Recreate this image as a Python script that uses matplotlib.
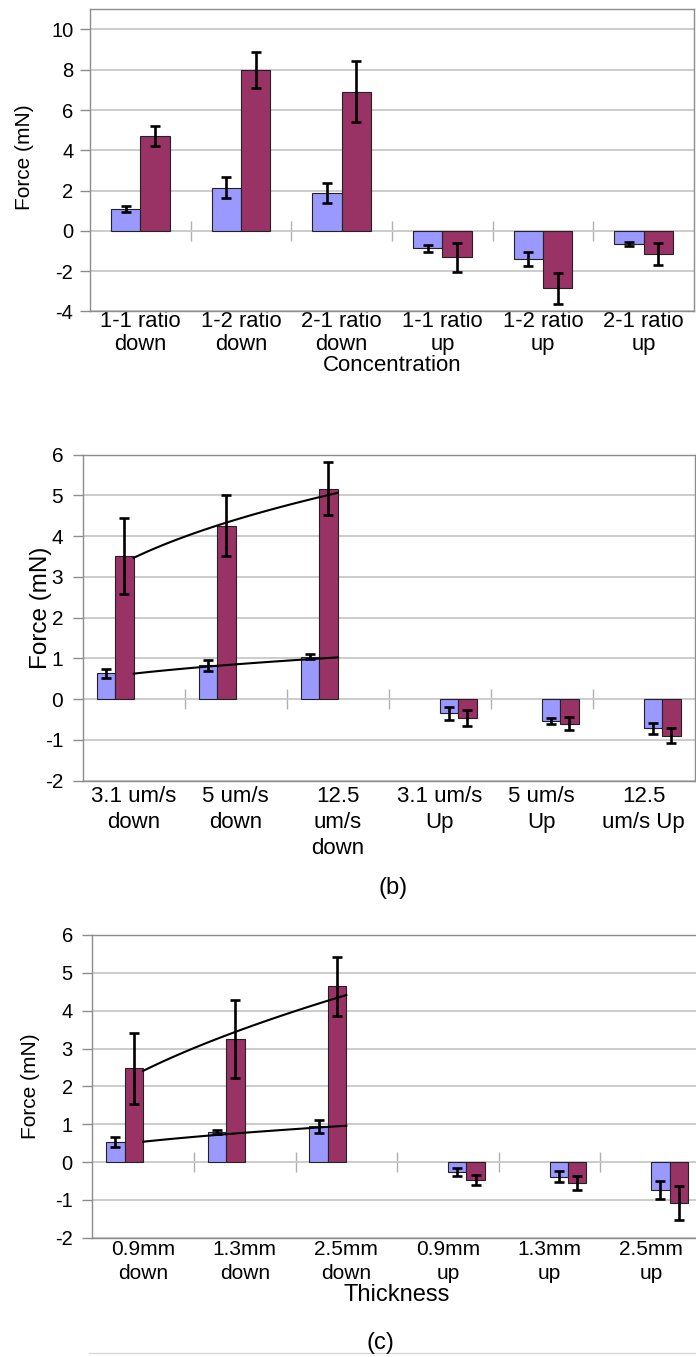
import numpy as np
import matplotlib
matplotlib.use("Agg")
import matplotlib.pyplot as plt
from matplotlib.lines import Line2D

plt.rcParams['font.family'] = ['Liberation Sans', 'DejaVu Sans']

# ---------------- data ----------------
directions = ["down", "down", "down", "up", "up", "up"]

a_categories = ["1-1 ratio\ndown", "1-2 ratio\ndown", "2-1 ratio\ndown",
                "1-1 ratio\nup", "1-2 ratio\nup", "2-1 ratio\nup"]
a_blue = [1.08, 2.14, 1.89, -0.87, -1.40, -0.64]
a_blue_err = [0.15, 0.52, 0.50, 0.18, 0.37, 0.10]
a_maroon = [4.70, 7.97, 6.90, -1.32, -2.85, -1.15]
a_maroon_err = [0.50, 0.90, 1.52, 0.70, 0.78, 0.54]
a_yticks = [-4, -2, 0, 2, 4, 6, 8, 10]
a_xlabel = "Concentration"

b_categories = ["3.1 um/s\ndown", "5 um/s\ndown", "12.5\num/s\ndown",
                "3.1 um/s\nUp", "5 um/s\nUp", "12.5\num/s Up"]
b_blue = [0.63, 0.83, 1.04, -0.35, -0.54, -0.72]
b_blue_err = [0.12, 0.13, 0.06, 0.16, 0.07, 0.13]
b_maroon = [3.51, 4.26, 5.17, -0.47, -0.61, -0.90]
b_maroon_err = [0.94, 0.75, 0.65, 0.20, 0.16, 0.18]
b_yticks = [-2, -1, 0, 1, 2, 3, 4, 5, 6]

c_categories = ["0.9mm\ndown", "1.3mm\ndown", "2.5mm\ndown",
                "0.9mm\nup", "1.3mm\nup", "2.5mm\nup"]
c_blue = [0.53, 0.80, 0.94, -0.27, -0.39, -0.74]
c_blue_err = [0.13, 0.05, 0.17, 0.10, 0.15, 0.25]
c_maroon = [2.48, 3.26, 4.64, -0.48, -0.56, -1.08]
c_maroon_err = [0.94, 1.03, 0.79, 0.14, 0.18, 0.44]
c_yticks = [-2, -1, 0, 1, 2, 3, 4, 5, 6]
c_xlabel = "Thickness"

ylabel = "Force (mN)"

# ---------------- style ----------------
BLUE = "#9999FF"
MAROON = "#993366"
EDGE = "#222222"
GRID = "#c8c8c8"
SPINE = "#8c8c8c"

W, H = 696, 1357
fig = plt.figure(figsize=(W / 100, H / 100), dpi=100)


def frac(left, top, right, bottom):
    return [left / W, 1 - bottom / H, (right - left) / W, (bottom - top) / H]


def draw_panel(ax, cats, blue, blue_err, maroon, maroon_err, yticks, ylim,
               four_slots, trend, tick_fs, xtick_fs, ylab_fs, ylab_xy,
               xt_linespacing, ytick_pad, xpad=1, xlabel=None, xlab_y=None, xlab_fs=15):
    x = np.arange(len(cats))
    if four_slots:
        w = 0.182
        blue_off = np.array([-1.5 * w if d == "down" else 0.5 * w for d in directions])
        mar_off = blue_off + w
    else:
        w = 0.293
        blue_off = np.full(len(cats), -0.5 * w)
        mar_off = np.full(len(cats), 0.5 * w)
    ax.bar(x + blue_off, blue, w, color=BLUE, edgecolor=EDGE, linewidth=0.8, zorder=2)
    ax.bar(x + mar_off, maroon, w, color=MAROON, edgecolor=EDGE, linewidth=0.8, zorder=2)
    ax.errorbar(x + blue_off, blue, yerr=blue_err, fmt='none', ecolor='black',
                elinewidth=1.9, capsize=3.4, capthick=1.9, zorder=4)
    ax.errorbar(x + mar_off, maroon, yerr=maroon_err, fmt='none', ecolor='black',
                elinewidth=1.9, capsize=3.4, capthick=1.9, zorder=4)

    if trend:
        idx = [i for i, d in enumerate(directions) if d == "down"]
        k = np.arange(1, len(idx) + 1, dtype=float)
        kk = np.linspace(1, len(idx), 60)
        for series in (blue, maroon):
            yv = np.array([series[i] for i in idx])
            c, lnb = np.polyfit(np.log(k), np.log(yv), 1)
            ax.plot(kk - 1 + idx[0], np.exp(lnb) * kk ** c, color='black', lw=1.5, zorder=3)

    ax.set_xlim(-0.5, len(cats) - 0.5)
    ax.set_ylim(*ylim)
    ax.set_yticks(yticks)
    ax.set_yticklabels([str(t) for t in yticks], fontsize=tick_fs)
    ax.set_xticks(x)
    ax.set_xticklabels(cats, fontsize=xtick_fs, linespacing=xt_linespacing,
                       multialignment='center')
    ax.tick_params(axis='x', length=0, pad=xpad)
    ax.tick_params(axis='y', length=7, width=1.0, color=SPINE, pad=ytick_pad)
    ax.set_axisbelow(True)
    ax.yaxis.grid(True, color=GRID, lw=1.3)
    for s in ax.spines.values():
        s.set_color(SPINE)
        s.set_linewidth(1.0)
    ax.set_ylabel(ylabel, fontsize=ylab_fs, va='center')
    ax.yaxis.set_label_coords(*ylab_xy)
    if xlabel:
        ax.set_xlabel(xlabel, fontsize=xlab_fs, va='center')
        ax.xaxis.set_label_coords(0.5, xlab_y)

    # category separator ticks on the zero line
    zpos = (0 - ylim[0]) / (ylim[1] - ylim[0])
    sec = ax.secondary_xaxis(zpos)
    sec.set_xticks(np.arange(0.5, len(cats) - 0.5, 1.0))
    sec.set_xticklabels([])
    sec.tick_params(direction='inout', length=14, width=1.0, color="#b0b0b0")
    for s in sec.spines.values():
        s.set_visible(False)


# panel (a)
ax_a = fig.add_axes(frac(90, 9.3, 694, 311.4))
draw_panel(ax_a, a_categories, a_blue, a_blue_err, a_maroon, a_maroon_err,
           a_yticks, (-4, 11), False, False, 14.5, 15.8, 15, (-0.108, 0.51),
           1.12, 5, xpad=0, xlabel=a_xlabel, xlab_y=-0.178, xlab_fs=16)

# panel (b)
ax_b = fig.add_axes(frac(82.7, 454.7, 694.6, 780.5))
draw_panel(ax_b, b_categories, b_blue, b_blue_err, b_maroon, b_maroon_err,
           b_yticks, (-2, 6), True, True, 15, 16, 17.5, (-0.068, 0.53),
           1.32, 7, xpad=4)

# panel (c)
ax_c = fig.add_axes(frac(92.3, 935, 701.9, 1237.7))
draw_panel(ax_c, c_categories, c_blue, c_blue_err, c_maroon, c_maroon_err,
           c_yticks, (-2, 6), True, True, 14.5, 15, 15, (-0.1006, 0.5),
           1.3, 7, xpad=2, xlabel=c_xlabel, xlab_y=-0.189, xlab_fs=17)

fig.text(393 / W, 1 - 888 / H, "(b)", fontsize=17, ha='center', va='center')
fig.text(380 / W, 1 - 1343 / H, "(c)", fontsize=17, ha='center', va='center')
fig.add_artist(Line2D([89 / W, 1.0], [1 - 1353 / H, 1 - 1353 / H],
                      transform=fig.transFigure, color="#d8d8d8", lw=1.0))

fig.savefig("out.png", dpi=100)
